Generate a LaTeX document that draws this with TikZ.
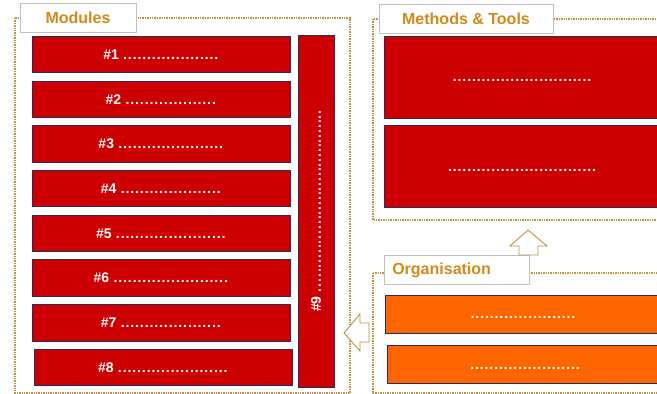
\documentclass[tikz,border=0pt]{standalone}
\usepackage{fontspec}
\setmainfont{Liberation Sans}
\usetikzlibrary{positioning}
\definecolor{boxred}{HTML}{CC0000}
\definecolor{boxorange}{HTML}{FF6600}
\definecolor{edgeblue}{HTML}{2E2A5E}
\definecolor{framegold}{HTML}{C0913F}
\definecolor{titlegold}{HTML}{D4891C}
\newcommand{\dotrun}[1]{\vphantom{\#}\foreach \k in {1,...,#1}{\makebox[4.8pt]{.}}}
\tikzset{
    %Define style for boxes
    module/.style={
           rectangle,
           draw=edgeblue, line width=0.8pt,
           fill=boxred,
           minimum width=258pt,
           minimum height=36.5pt,
           inner sep=0pt,
           text=white,
           font=\fontsize{14}{16}\selectfont\bfseries},
    method/.style={
           module,
           minimum width=276pt,
           minimum height=82pt},
    orgbox/.style={
           module,
           fill=boxorange,
           minimum width=276pt,
           minimum height=38pt},
    labelbox/.style={
           rectangle,
           draw=black!25, line width=0.6pt,
           fill=white,
           minimum height=29pt,
           inner sep=0pt,
           text=titlegold,
           font=\fontsize{16}{18}\selectfont\bfseries},
    % Define frame and arrow style
    frame/.style={
           draw=framegold,
           line width=1.8pt,
           dash pattern=on 1.4pt off 1pt},
    bigarrow/.style={
           draw=framegold,
           line width=0.9pt,
           fill=white}
}
\begin{document}
\begin{tikzpicture}[x=1pt,y=-1pt,node distance=7.4pt]
\clip (0,0) rectangle (657,394);
% dotted frames
\draw[frame] (15,18) rectangle (350,393);
\draw[frame] (373,19) rectangle (670,220);
\draw[frame] (373,273) rectangle (670,393);

% modules
\node[module](m1) at (161,54.5){\#1 \dotrun{20}};
\node[module, below=of m1](m2){\#2 \dotrun{19}};
\node[module, below=of m2](m3){\#3 \dotrun{22}};
\node[module, below=of m3](m4){\#4 \dotrun{21}};
\node[module, below=of m4](m5){\#5 \dotrun{23}};
\node[module, below=of m5](m6){\#6 \dotrun{24}};
\node[module, below=of m6](m7){\#7 \dotrun{21}};
\node[module, below=of m7, xshift=2pt](m8){\#8 \dotrun{23}};
\node[module, minimum width=352pt, minimum height=36pt, rotate=90](m9) at (316,211){\#9 \dotrun{38}};

% methods and tools
\node[method](t1) at (522,77){\dotrun{29}};
\node[method, below=6.5pt of t1](t2){\dotrun{31}};

% organisation
\node[orgbox](o1) at (523,314){\dotrun{22}};
\node[orgbox, below=11.5pt of o1, xshift=2pt](o2){\dotrun{23}};

% titles
\node[labelbox, minimum width=116pt](lmod) at (78,17.5){Modules};
\node[labelbox, minimum width=174pt](lmet) at (466,18.5){Methods \& Tools};
\node[labelbox, anchor=west, text width=129pt, align=left, inner xsep=8pt](lorg) at (384,270){Organisation};

% block arrows
\draw[bigarrow] (528,230) -- (547,246) -- (538,246) -- (538,255) -- (519,255) -- (519,246) -- (510,246) -- cycle;
\draw[bigarrow] (344,333) -- (360,314) -- (360,323) -- (369,323) -- (369,342) -- (360,342) -- (360,351) -- cycle;
\end{tikzpicture}
\end{document}
